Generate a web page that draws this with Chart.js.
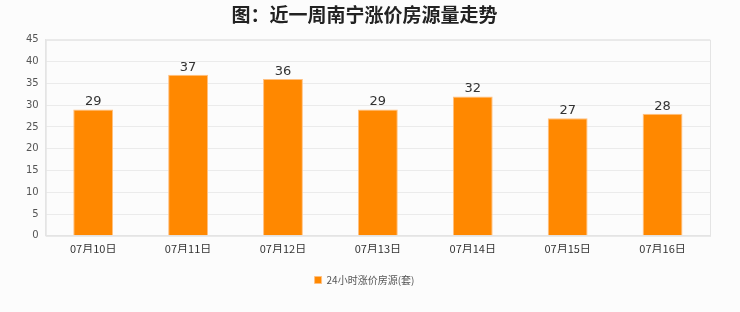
<!DOCTYPE html>
<html>
<head>
<meta charset="utf-8">
<script src="https://cdn.jsdelivr.net/npm/chart.js@4"></script>
<style>
  html, body { margin: 0; padding: 0; background: #fcfcfc; }
  #wrap { width: 740px; height: 312px; }
</style>
</head>
<body>
<div id="wrap"><canvas id="chart" width="740" height="312"></canvas></div>
<script>
const days = ['07月10日', '07月11日', '07月12日', '07月13日', '07月14日', '07月15日', '07月16日'];
const counts = [29, 37, 36, 29, 32, 27, 28];
const yTicks = [0, 5, 10, 15, 20, 25, 30, 35, 40, 45];

// numbers above each bar
const barLabels = {
  id: 'barLabels',
  afterDatasetsDraw(chart) {
    const ctx = chart.ctx;
    const meta = chart.getDatasetMeta(0);
    ctx.save();
    ctx.font = '13px "DejaVu Sans", sans-serif';
    ctx.fillStyle = '#333';
    ctx.textAlign = 'center';
    ctx.textBaseline = 'bottom';
    meta.data.forEach((bar, i) => {
      ctx.fillText(counts[i], bar.x, bar.y - 1);
    });
    ctx.restore();
  }
};

// plot area frame
const frame = {
  id: 'frame',
  afterDraw(chart) {
    const a = chart.chartArea;
    const ctx = chart.ctx;
    ctx.save();
    ctx.strokeStyle = '#e4e4e4';
    ctx.lineWidth = 1;
    ctx.strokeRect(a.left + 0.5, a.top + 0.5, a.right - a.left, a.bottom - a.top);
    ctx.restore();
  }
};

new Chart(document.getElementById('chart'), {
  type: 'bar',
  data: {
    labels: days,
    datasets: [{
      label: '24小时涨价房源(套)',
      data: counts,
      backgroundColor: '#ff8800',
      borderColor: '#ffc080',
      borderWidth: 1,
      barPercentage: 0.42,
      categoryPercentage: 1
    }]
  },
  options: {
    responsive: false,
    animation: false,
    layout: { padding: { left: 19, right: 30, top: 0, bottom: 17 } },
    plugins: {
      title: {
        display: true,
        text: '图：近一周南宁涨价房源量走势',
        font: { size: 19, weight: 'bold', family: '"Noto Sans CJK SC", sans-serif' },
        color: '#222',
        padding: { top: 3, bottom: 14 }
      },
      legend: {
        position: 'bottom',
        labels: {
          boxWidth: 7,
          boxHeight: 7,
          font: { size: 10, family: '"Noto Sans CJK SC", sans-serif' },
          color: '#555',
          padding: 22
        }
      },
      tooltip: { enabled: false }
    },
    scales: {
      x: {
        grid: { display: false },
        border: { color: '#e4e4e4' },
        ticks: {
          color: '#333',
          font: { size: 11, family: '"Noto Sans CJK SC", sans-serif' },
          padding: -2,
          maxRotation: 0
        }
      },
      y: {
        min: 0,
        max: 45,
        afterBuildTicks(axis) { axis.ticks = yTicks.map(v => ({ value: v })); },
        grid: { color: '#ebebeb', drawTicks: false },
        border: { color: '#e4e4e4' },
        ticks: {
          color: '#555',
          font: { size: 10, family: '"DejaVu Sans", sans-serif' },
          padding: 7
        }
      }
    }
  },
  plugins: [frame, barLabels]
});
</script>
</body>
</html>
